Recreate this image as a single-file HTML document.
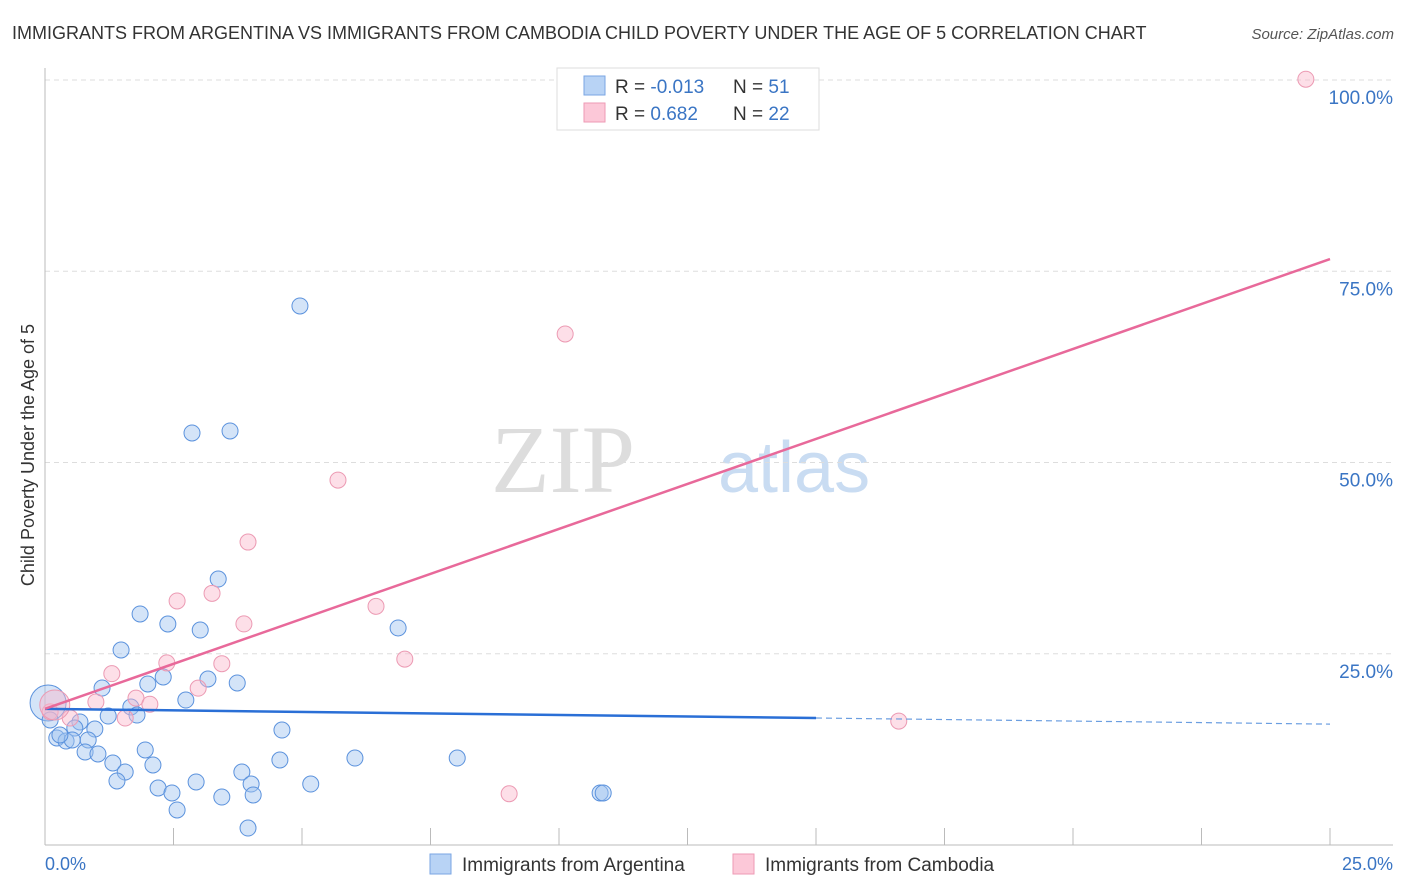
<!DOCTYPE html>
<html><head><meta charset="utf-8"><style>
body{margin:0;background:#fff;font-family:"Liberation Sans",sans-serif}
svg{display:block}
</style></head><body>
<svg width="1406" height="892" xmlns="http://www.w3.org/2000/svg">
<text x="12" y="39" font-size="18" fill="#333">IMMIGRANTS FROM ARGENTINA VS IMMIGRANTS FROM CAMBODIA CHILD POVERTY UNDER THE AGE OF 5 CORRELATION CHART</text>
<text x="1394" y="39" font-size="15" font-style="italic" fill="#555" text-anchor="end">Source: ZipAtlas.com</text>
<text x="635" y="492" font-size="96" font-family="Liberation Serif,serif" fill="#ddd" text-anchor="end">ZIP</text>
<text x="718" y="492" font-size="72" fill="#c9dcf2">atlas</text>
<g id="grid"></g>
<g id="axes"></g>
<g id="marks"></g>
<text transform="translate(34,455) rotate(-90)" font-size="18" fill="#333" text-anchor="middle">Child Poverty Under the Age of 5</text>
<text x="45" y="870" font-size="18" fill="#3a75c4">0.0%</text>
<text x="1393" y="870" font-size="18" fill="#3a75c4" text-anchor="end">25.0%</text>
<g>
<rect x="557" y="68" width="262" height="62" fill="#fff" stroke="#ddd"/>
<rect x="584" y="76" width="21" height="19" fill="#b8d3f5" stroke="#7aa6e3"/>
<rect x="584" y="103" width="21" height="19" fill="#fcc8d8" stroke="#ee9ab4"/>
<text x="615" y="93" font-size="19" fill="#333">R = <tspan fill="#3a75c4">-0.013</tspan></text>
<text x="733" y="93" font-size="19" fill="#333">N = <tspan fill="#3a75c4"> 51</tspan></text>
<text x="615" y="120" font-size="19" fill="#333">R = <tspan fill="#3a75c4"> 0.682</tspan></text>
<text x="733" y="120" font-size="19" fill="#333">N = <tspan fill="#3a75c4">22</tspan></text>
</g>
<g>
<rect x="430" y="854" width="21" height="20" fill="#b8d3f5" stroke="#7aa6e3"/>
<text x="462" y="871" font-size="19" fill="#333">Immigrants from Argentina</text>
<rect x="733" y="854" width="21" height="20" fill="#fcc8d8" stroke="#ee9ab4"/>
<text x="765" y="871" font-size="19" fill="#333">Immigrants from Cambodia</text>
</g>
</svg>
<script>
const yTicks=[25,50,75,100];
const yTickLabels=["25.0%","50.0%","75.0%","100.0%"];
const xTicks=[2.5,5,7.5,10,12.5,15,17.5,20,22.5,25];
const argX=[4.96,2.86,3.60,3.37,1.85,2.39,3.02,1.48,6.87,1.11,2.00,2.30,3.17,3.74,2.74,1.67,1.79,1.23,0.68,0.97,0.58,0.84,0.23,0.41,0.06,4.61,1.95,0.78,1.03,1.32,2.10,1.56,1.40,3.83,4.57,6.03,8.02,2.94,2.20,2.47,4.01,4.05,5.17,3.44,2.57,3.95,10.80,10.86,0.53,0.29,0.10];
const argY=[70.46,53.86,54.12,34.77,30.20,28.89,28.10,25.49,28.37,20.52,21.05,21.96,21.70,21.18,18.95,18.04,16.99,16.86,16.08,15.16,15.29,13.73,13.99,13.59,18.56,15.03,12.42,12.16,11.90,10.72,10.46,9.54,8.37,9.54,11.11,11.37,11.37,8.24,7.45,6.80,7.97,6.54,7.97,6.27,4.58,2.22,6.80,6.80,13.73,14.38,16.34];
const camX=[24.53,10.12,5.70,3.95,2.57,3.25,3.87,6.44,7.00,2.37,3.44,1.30,2.98,0.99,1.77,2.04,1.56,0.49,0.10,16.61,9.03,0.19];
const camY=[100.1,66.8,47.7,39.6,31.9,32.9,28.9,31.2,24.3,23.8,23.7,22.4,20.5,18.7,19.2,18.4,16.6,16.6,17.4,16.2,6.7,18.3];
const argTrend=[17.8,16.6,15.8]; // at x=0, 15, 25
const camTrend=[17.8,76.6]; // at x=0, 25
const NS='http://www.w3.org/2000/svg';
const X=v=>45+v/25*1285, Y=v=>845-v/100*765;
function mk(tag,attrs,parent){const e=document.createElementNS(NS,tag);for(const k in attrs)e.setAttribute(k,attrs[k]);document.getElementById(parent).appendChild(e);return e;}
yTicks.forEach((t,i)=>{
 const g=mk('line',{x1:45,x2:1393,y1:Y(t),y2:Y(t),stroke:'#ddd','stroke-dasharray':'5,4'},'grid');
 
 
 const l=mk('text',{x:1393,y:Y(t)+24,'font-size':19,fill:'#3a75c4','text-anchor':'end'},'grid');l.textContent=yTickLabels[i];
 
 
});
mk('line',{x1:45,x2:45,y1:68,y2:845,stroke:'#bbb'},'axes');
mk('line',{x1:45,x2:1393,y1:845,y2:845,stroke:'#bbb'},'axes');
xTicks.forEach(t=>{const e=mk('line',{x1:X(t),x2:X(t),y1:828,y2:845,stroke:'#bbb'},'axes');
 
 });
argX.forEach((x,i)=>{const big=i===24;const c=mk('circle',{cx:X(x),cy:Y(argY[i]),r:big?18:8,fill:'rgba(160,196,240,0.45)',stroke:'#5b92dd','stroke-width':1},'marks');
 
 });
camX.forEach((x,i)=>{const big=i===21;const c=mk('circle',{cx:X(x),cy:Y(camY[i]),r:big?15:8,fill:'rgba(250,185,205,0.45)',stroke:'#ec9ab3','stroke-width':1},'marks');
 
 });
const a1=mk('line',{x1:X(0),y1:Y(argTrend[0]),x2:X(15),y2:Y(argTrend[1]),stroke:'#2a6fd6','stroke-width':2.5},'marks');


const a2=mk('line',{x1:X(15),y1:Y(argTrend[1]),x2:X(25),y2:Y(argTrend[2]),stroke:'#6b9ee0','stroke-width':1.2,'stroke-dasharray':'6,4'},'marks');


const c1=mk('line',{x1:X(0),y1:Y(camTrend[0]),x2:X(25),y2:Y(camTrend[1]),stroke:'#e8699a','stroke-width':2.5},'marks');


</script>
</body></html>
